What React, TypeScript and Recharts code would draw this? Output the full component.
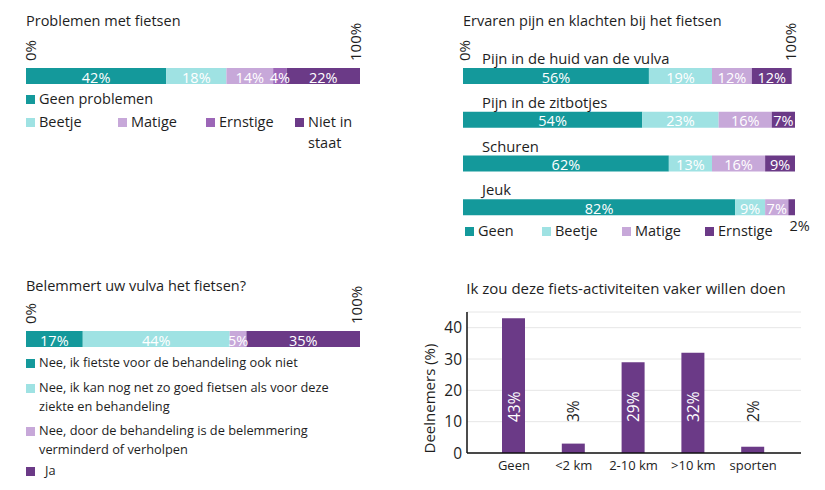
import React from 'react';
import { BarChart, Bar, XAxis, YAxis, CartesianGrid, LabelList, Label } from 'recharts';

const FONT = '"Open Sans", "Noto Sans", sans-serif';
const INK = '#1e1e1e';

const TEAL = '#14999b';
const CYAN = '#9fe2e3';
const LAVENDER = '#c7a8d9';
const MID = '#9c66b7';
const PLUM = '#6b3a87';

// Problemen met fietsen
const problemSeries = ['Geen problemen', 'Beetje', 'Matige', 'Ernstige', 'Niet in staat'];
const problemValues = [42, 18, 14, 4, 22];
const problemColors = [TEAL, CYAN, LAVENDER, MID, PLUM];

// Ervaren pijn en klachten bij het fietsen
const painCategories = ['Pijn in de huid van de vulva', 'Pijn in de zitbotjes', 'Schuren', 'Jeuk'];
const painSeries = ['Geen', 'Beetje', 'Matige', 'Ernstige'];
const painGeen = [56, 54, 62, 82];
const painBeetje = [19, 23, 13, 9];
const painMatige = [12, 16, 16, 7];
const painErnstige = [12, 7, 9, 2];
const painColors = [TEAL, CYAN, LAVENDER, PLUM];

// Belemmert uw vulva het fietsen?
const hinderSeries = [
  'Nee, ik fietste voor de behandeling ook niet',
  'Nee, ik kan nog net zo goed fietsen als voor deze ziekte en behandeling',
  'Nee, door de behandeling is de belemmering verminderd of verholpen',
  'Ja',
];
const hinderValues = [17, 44, 5, 35];
const hinderColors = [TEAL, CYAN, LAVENDER, PLUM];

// Ik zou deze fiets-activiteiten vaker willen doen
const activityCategories = ['Geen', '<2 km', '2-10 km', '>10 km', 'sporten'];
const activityValues = [43, 3, 29, 32, 2];
const activityTicks = [0, 10, 20, 30, 40];

const problemData = [
  problemValues.reduce((row: any, v, i) => ({ ...row, ['s' + i]: v }), { name: 'all' }),
];
const painData = painCategories.map((name, i) => ({
  name,
  s0: painGeen[i],
  s1: painBeetje[i],
  s2: painMatige[i],
  s3: painErnstige[i],
}));
const hinderData = [
  hinderValues.reduce((row: any, v, i) => ({ ...row, ['s' + i]: v }), { name: 'all' }),
];
const activityData = activityCategories.map((name, i) => ({ name, value: activityValues[i] }));

const makePctTick = (startShift: number, endShift: number, gap: number) => (props: any) => {
  const { x, y, payload } = props;
  const shift = payload.value === 0 ? startShift : endShift;
  return (
    <text
      transform={`translate(${x + shift},${y - gap}) rotate(-90)`}
      textAnchor="start"
      dominantBaseline="central"
      fontSize={15}
      fontFamily={FONT}
      fill={INK}
    >
      {payload.value}%
    </text>
  );
};

const segmentLabel = (props: any) => {
  const { x, y, width, height, value } = props;
  if (width < 8) {
    return (
      <text x={x + width / 2 + 8} y={y + height + 10} textAnchor="middle" dominantBaseline="central"
        fontSize={14.5} fontFamily={FONT} fill={INK}>
        {value}%
      </text>
    );
  }
  return (
    <text x={x + width / 2} y={y + height / 2 + 1} textAnchor="middle" dominantBaseline="central"
      fontSize={14.5} fontFamily={FONT} fill="#fff">
      {value}%
    </text>
  );
};

const rowTitle = (props: any) => {
  const { x, y, value } = props;
  return (
    <text x={x + 19} y={y - 4} fontSize={14.8} fontFamily={FONT} fill={INK}>
      {value}
    </text>
  );
};

const activityLabel = (props: any) => {
  const { x, y, width, height, value } = props;
  const base = y + height;
  return (
    <text
      transform={`translate(${x + width / 2},${base - 31}) rotate(-90)`}
      textAnchor="start"
      dominantBaseline="central"
      fontSize={15.5}
      fontFamily={FONT}
      fill={value >= 10 ? '#fff' : INK}
    >
      {value}%
    </text>
  );
};

const Swatch = ({ x, y, color, text, size = 13, width, lh = 19, gap = 4 }: any) => (
  <div style={{ position: 'absolute', left: x, top: y, display: 'flex', alignItems: 'flex-start', fontSize: size, color: INK, width, lineHeight: lh + 'px' }}>
    <div style={{ width: 9, height: 9, background: color, marginTop: (lh - 9) / 2 + 1, marginRight: gap, flex: 'none' }} />
    <div>{text}</div>
  </div>
);

const Title = ({ x, y, text, size = 14.5, center }: any) => (
  <div style={{ position: 'absolute', left: x, top: y, fontSize: size, color: INK, whiteSpace: 'nowrap', transform: center ? 'translateX(-50%)' : undefined }}>
    {text}
  </div>
);

export default function App() {
  return (
    <div style={{ position: 'absolute', left: 0, top: 0, width: 825, height: 490, background: '#fff', fontFamily: FONT, overflow: 'hidden' }}>
      {/* Panel 1 */}
      <Title x={26} y={11} text="Problemen met fietsen" />
      <div style={{ position: 'absolute', left: 0, top: 0 }}>
        <BarChart width={412} height={100} layout="vertical" data={problemData}
          margin={{ top: 28, right: 52, left: 26, bottom: 16 }} barCategoryGap={0}>
          <XAxis type="number" orientation="top" domain={[0, 100]} ticks={[0, 100]} height={40}
            axisLine={false} tickLine={false} tickSize={0} tickMargin={0} interval={0}
            tick={makePctTick(4, -5, 7)} />
          <YAxis type="category" dataKey="name" hide />
          {problemSeries.map((s, i) => (
            <Bar key={s} dataKey={'s' + i} stackId="a" fill={problemColors[i]} isAnimationActive={false}>
              <LabelList dataKey={'s' + i} content={segmentLabel} />
            </Bar>
          ))}
        </BarChart>
      </div>
      <Swatch x={26} y={88} color={problemColors[0]} text={problemSeries[0]} size={14.5} lh={21} />
      <Swatch x={26} y={111} color={problemColors[1]} text={problemSeries[1]} size={14.5} lh={21} />
      <Swatch x={118} y={111} color={problemColors[2]} text={problemSeries[2]} size={14.5} lh={21} />
      <Swatch x={206} y={111} color={problemColors[3]} text={problemSeries[3]} size={14.5} lh={21} />
      <Swatch x={295} y={111} color={problemColors[4]} text={problemSeries[4]} size={14.5} lh={21} width={70} />

      {/* Panel 2 */}
      <Title x={463} y={11} text="Ervaren pijn en klachten bij het fietsen" />
      <div style={{ position: 'absolute', left: 412, top: 0 }}>
        <BarChart width={413} height={250} layout="vertical" data={painData}
          margin={{ top: 14, right: 30, left: 51, bottom: 21 }} barSize={16}>
          <XAxis type="number" orientation="top" domain={[0, 100]} ticks={[0, 100]} height={40}
            axisLine={false} tickLine={false} tickSize={0} tickMargin={0} interval={0}
            tick={makePctTick(1, -5, -7)} />
          <YAxis type="category" dataKey="name" hide />
          {painSeries.map((s, i) => (
            <Bar key={s} dataKey={'s' + i} stackId="a" fill={painColors[i]} isAnimationActive={false}>
              {i === 0 && <LabelList dataKey="name" content={rowTitle} />}
              <LabelList dataKey={'s' + i} content={segmentLabel} />
            </Bar>
          ))}
        </BarChart>
      </div>
      <Swatch x={465} y={220} color={painColors[0]} text={painSeries[0]} size={14.5} lh={21} />
      <Swatch x={542} y={220} color={painColors[1]} text={painSeries[1]} size={14.5} lh={21} />
      <Swatch x={622} y={220} color={painColors[2]} text={painSeries[2]} size={14.5} lh={21} />
      <Swatch x={705} y={220} color={painColors[3]} text={painSeries[3]} size={14.5} lh={21} />

      {/* Panel 3 */}
      <Title x={26} y={276} text="Belemmert uw vulva het fietsen?" />
      <div style={{ position: 'absolute', left: 0, top: 260 }}>
        <BarChart width={412} height={100} layout="vertical" data={hinderData}
          margin={{ top: 31, right: 52, left: 26, bottom: 13 }} barCategoryGap={0}>
          <XAxis type="number" orientation="top" domain={[0, 100]} ticks={[0, 100]} height={40}
            axisLine={false} tickLine={false} tickSize={0} tickMargin={0} interval={0}
            allowDataOverflow tick={makePctTick(4, -4, 7)} />
          <YAxis type="category" dataKey="name" hide />
          {hinderSeries.map((s, i) => (
            <Bar key={s} dataKey={'s' + i} stackId="a" fill={hinderColors[i]} isAnimationActive={false}>
              <LabelList dataKey={'s' + i} content={segmentLabel} />
            </Bar>
          ))}
        </BarChart>
      </div>
      <Swatch x={26} y={353} color={hinderColors[0]} text={hinderSeries[0]} size={12.8} />
      <Swatch x={26} y={378} color={hinderColors[1]} text={hinderSeries[1]} size={12.8} width={330} />
      <Swatch x={26} y={421} color={hinderColors[2]} text={hinderSeries[2]} size={12.8} width={300} />
      <Swatch x={26} y={461} color={hinderColors[3]} text={hinderSeries[3]} size={12.8} gap={10} />

      {/* Panel 4 */}
      <Title x={626} y={278} size={15} text="Ik zou deze fiets-activiteiten vaker willen doen" center />
      <div style={{ position: 'absolute', left: 412, top: 260 }}>
        <BarChart width={413} height={230} data={activityData}
          margin={{ top: 52, right: 24, left: 10, bottom: 7 }} barSize={23}>
          <CartesianGrid vertical={false} stroke="#e6e6e6" />
          <XAxis dataKey="name" height={30} padding={{ left: 17, right: 18 }}
            axisLine={{ stroke: '#111', strokeWidth: 1.5 }} tickLine={false} tickSize={0} tickMargin={8}
            tick={{ fontSize: 13, fill: INK, fontFamily: FONT }} interval={0} />
          <YAxis type="number" domain={[0, 45]} ticks={activityTicks} width={45}
            axisLine={{ stroke: '#111', strokeWidth: 1.5 }} tickLine={false} tickSize={0} tickMargin={5}
            tick={{ fontSize: 15.5, fill: INK, fontFamily: FONT }}>
            <Label
              content={(p: any) => {
                const vb = p.viewBox;
                return (
                  <text transform={`translate(${vb.x + 7},${vb.y + vb.height / 2 + 16}) rotate(-90)`}
                    textAnchor="middle" dominantBaseline="central" fontSize={15} fontFamily={FONT} fill={INK}>
                    Deelnemers (%)
                  </text>
                );
              }}
            />
          </YAxis>
          <Bar dataKey="value" fill={PLUM} isAnimationActive={false}>
            <LabelList dataKey="value" content={activityLabel} />
          </Bar>
        </BarChart>
      </div>
    </div>
  );
}
